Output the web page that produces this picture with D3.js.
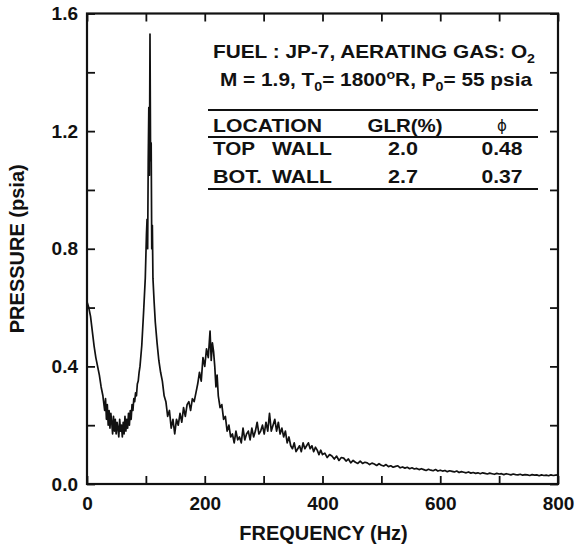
<!DOCTYPE html>
<html>
<head>
<meta charset="utf-8">
<script src="https://cdn.jsdelivr.net/npm/d3@7"></script>
<style>
  body { margin: 0; background: #fff; }
  text { font-family: "Liberation Sans", Arial, sans-serif; font-weight: bold; fill: #111; }
</style>
</head>
<body>
<div id="chart"></div>
<script>
// Spectrum (Hz, psia)
var freqHz = [
  0,3,6,9,12,15,18,21,24,27,
  30,31.5,33,34.5,36,37.5,39,40.5,42,43.5,
  45,46.5,48,49.5,51,52.5,54,55.5,57,58.5,
  60,61.5,63,64.5,66,67.5,69,70.5,72,73.5,
  75,76.5,78,79.5,81,82.5,84,85.5,87,88.5,
  90,93,96,99,101,102,103,104,105,106,
  107,108,109,110,111,112,114,116,119,122,
  125,128,131,134,137,140,143,146,149,152,
  155,158,161,164,167,170,173,176,179,182,
  185,188,191,194,197,200,203,206,209,211,
  213,215,217,219,221,223,226,229,232,235,
  238,241,244,247,250,253,256,259,262,265,
  268,271,274,277,280,283,286,289,292,295,
  298,301,304,307,310,313,316,319,322,325,
  328,331,334,337,340,343,346,349,352,355,
  358,361,364,367,370,373,376,379,382,385,
  388,391,394,397,400,404,408,412,416,420,
  424,428,432,436,440,444,448,452,456,460,
  464,468,472,476,480,484,488,492,496,500,
  504,508,512,516,520,524,528,532,536,540,
  544,548,552,556,560,564,568,572,576,580,
  584,588,592,596,600,604,608,612,616,620,
  624,628,632,636,640,644,648,652,656,660,
  664,668,672,676,680,684,688,692,696,700,
  704,708,712,716,720,724,728,732,736,740,
  744,748,752,756,760,764,768,772,776,780,
  784,788,792,796,800];
var pressurePsia = [
  0.62,0.60,0.57,0.52,0.47,0.43,0.40,0.37,0.33,0.30,
  0.25,0.29,0.22,0.27,0.20,0.25,0.19,0.24,0.21,0.17,
  0.23,0.18,0.22,0.17,0.21,0.19,0.16,0.22,0.18,0.20,
  0.16,0.21,0.17,0.23,0.18,0.22,0.19,0.24,0.20,0.25,
  0.22,0.27,0.25,0.29,0.28,0.31,0.30,0.34,0.35,0.38,
  0.40,0.47,0.58,0.70,0.85,0.90,0.80,1.10,1.28,1.05,
  1.53,1.10,1.16,0.80,0.88,0.70,0.62,0.55,0.48,0.42,
  0.38,0.35,0.30,0.28,0.23,0.25,0.19,0.22,0.17,0.22,
  0.20,0.24,0.21,0.26,0.23,0.27,0.28,0.25,0.29,0.28,
  0.31,0.34,0.38,0.35,0.43,0.40,0.46,0.43,0.52,0.42,
  0.48,0.45,0.40,0.33,0.37,0.30,0.26,0.27,0.22,0.23,
  0.18,0.20,0.16,0.17,0.14,0.18,0.15,0.16,0.14,0.19,
  0.15,0.17,0.18,0.15,0.19,0.16,0.18,0.21,0.17,0.18,
  0.20,0.17,0.21,0.18,0.24,0.18,0.20,0.22,0.18,0.21,
  0.17,0.19,0.16,0.18,0.14,0.16,0.13,0.12,0.14,0.11,
  0.12,0.13,0.11,0.14,0.12,0.13,0.14,0.12,0.13,0.11,
  0.125,0.115,0.10,0.115,0.10,0.105,0.09,0.10,0.095,0.085,
  0.095,0.08,0.09,0.088,0.078,0.085,0.072,0.08,0.074,0.07,
  0.078,0.070,0.074,0.072,0.066,0.071,0.068,0.063,0.069,0.064,
  0.061,0.066,0.059,0.062,0.057,0.060,0.062,0.055,0.058,0.054,
  0.057,0.052,0.055,0.051,0.053,0.049,0.052,0.049,0.046,0.050,
  0.047,0.045,0.049,0.044,0.047,0.044,0.046,0.042,0.045,0.043,
  0.041,0.044,0.039,0.042,0.040,0.038,0.041,0.037,0.039,0.036,
  0.038,0.035,0.038,0.036,0.034,0.037,0.035,0.033,0.036,0.034,
  0.035,0.032,0.035,0.033,0.031,0.034,0.032,0.031,0.033,0.030,
  0.032,0.031,0.029,0.032,0.030,0.031,0.028,0.031,0.029,0.030,
  0.028,0.031,0.029,0.030,0.031];

var xTicks = [0,100,200,300,400,500,600,700,800];
var xTickLabels = ["0","","200","","400","","600","","800"];
var yTicks = [0,0.2,0.4,0.6,0.8,1.0,1.2,1.4,1.6];
var yTickLabels = ["0.0","","0.4","","0.8","","1.2","","1.6"];

var tableHeader = ["LOCATION","GLR(%)","\u03d5"];
var tableLocations = [["TOP","WALL"],["BOT.","WALL"]];
var tableGLR = ["2.0","2.7"];
var tablePhi = ["0.48","0.37"];

var svgWidth = 576, svgHeight = 550;
var margin = {top: 13.5, right: 18, bottom: 66, left: 87};
var width = svgWidth - margin.left - margin.right;
var height = svgHeight - margin.top - margin.bottom;

var svg = d3.select("#chart").append("svg")
  .attr("width", svgWidth).attr("height", svgHeight);

var chartGroup = svg.append("g")
  .attr("transform", `translate(${margin.left}, ${margin.top})`);

var x = d3.scaleLinear().domain([0, 800]).range([0, width]);
var y = d3.scaleLinear().domain([0, 1.6]).range([height, 0]);

// axes with inward ticks, labels on every other tick
function styleAxis(g) {
  g.select(".domain").remove();
  g.selectAll(".tick line").attr("stroke", "#111").attr("stroke-width", 1.8);
  g.selectAll("text").style("font-size", "19px");
}

chartGroup.append("g")
  .attr("transform", `translate(0, ${height})`)
  .call(d3.axisBottom(x).tickValues(xTicks).tickSize(-8).tickPadding(13)
    .tickFormat((d, i) => xTickLabels[i]))
  .call(styleAxis);

chartGroup.append("g")
  .call(d3.axisTop(x).tickValues(xTicks).tickSize(-8).tickFormat(""))
  .call(styleAxis);

chartGroup.append("g")
  .call(d3.axisLeft(y).tickValues(yTicks).tickSize(-8).tickPadding(9)
    .tickFormat((d, i) => yTickLabels[i]))
  .call(styleAxis);

chartGroup.append("g")
  .attr("transform", `translate(${width}, 0)`)
  .call(d3.axisRight(y).tickValues(yTicks).tickSize(-8).tickFormat(""))
  .call(styleAxis);

chartGroup.append("rect")
  .attr("width", width).attr("height", height)
  .attr("fill", "none").attr("stroke", "#111").attr("stroke-width", 2.2);

// spectrum line
var spectrum = freqHz.map((f, i) => [f, pressurePsia[i]]);
chartGroup.append("path")
  .datum(spectrum)
  .attr("fill", "none")
  .attr("stroke", "#111")
  .attr("stroke-width", 1.7)
  .attr("stroke-linejoin", "round")
  .attr("d", d3.line().x(d => x(d[0])).y(d => y(d[1])));

// axis titles
svg.append("text")
  .attr("x", margin.left + width / 2 + 1).attr("y", 540)
  .attr("text-anchor", "middle").style("font-size", "20px")
  .text("FREQUENCY (Hz)");

svg.append("text")
  .attr("transform", `translate(24, ${margin.top + height / 2}) rotate(-90)`)
  .attr("text-anchor", "middle").style("font-size", "20px")
  .text("PRESSURE (psia)");

// annotation block
var note = svg.append("g").style("font-size", "19px");

var line1 = note.append("text").attr("x", 213).attr("y", 58)
  .attr("textLength", 322).attr("lengthAdjust", "spacingAndGlyphs");
line1.append("tspan").text("FUEL : JP-7, AERATING GAS: O");
line1.append("tspan").attr("dy", 5).style("font-size", "13px").text("2");

var line2 = note.append("text").attr("x", 220).attr("y", 86)
  .attr("textLength", 312).attr("lengthAdjust", "spacingAndGlyphs");
line2.append("tspan").text("M = 1.9, T");
line2.append("tspan").attr("dy", 5).style("font-size", "13px").text("0");
line2.append("tspan").attr("dy", -5).text("= 1800");
line2.append("tspan").attr("dy", -7).style("font-size", "13px").text("o");
line2.append("tspan").attr("dy", 7).text("R, P");
line2.append("tspan").attr("dy", 5).style("font-size", "13px").text("0");
line2.append("tspan").attr("dy", -5).text("= 55 psia");

[110, 137, 189].forEach(function(ly) {
  note.append("line")
    .attr("x1", 208).attr("x2", 538).attr("y1", ly).attr("y2", ly)
    .attr("stroke", "#111").attr("stroke-width", 2);
});

function stretched(tx, ty, anchor, len, str) {
  return note.append("text").attr("x", tx).attr("y", ty).attr("text-anchor", anchor)
    .attr("textLength", len).attr("lengthAdjust", "spacingAndGlyphs").text(str);
}

stretched(213, 132, "start", 109, tableHeader[0]);
stretched(405, 132, "middle", 75, tableHeader[1]);
note.append("text").attr("x", 502).attr("y", 131).attr("text-anchor", "middle")
  .style("font-family", "'DejaVu Sans', sans-serif").style("font-weight", "normal")
  .style("font-size", "15px").style("fill", "#111").text(tableHeader[2]);

var rowY = [155, 183];
tableLocations.forEach(function(loc, i) {
  stretched(213, rowY[i], "start", i === 0 ? 42 : 49, loc[0]);
  stretched(332, rowY[i], "end", 60, loc[1]);
  stretched(403, rowY[i], "middle", 30, tableGLR[i]);
  stretched(502, rowY[i], "middle", 41, tablePhi[i]);
});
</script>
</body>
</html>
